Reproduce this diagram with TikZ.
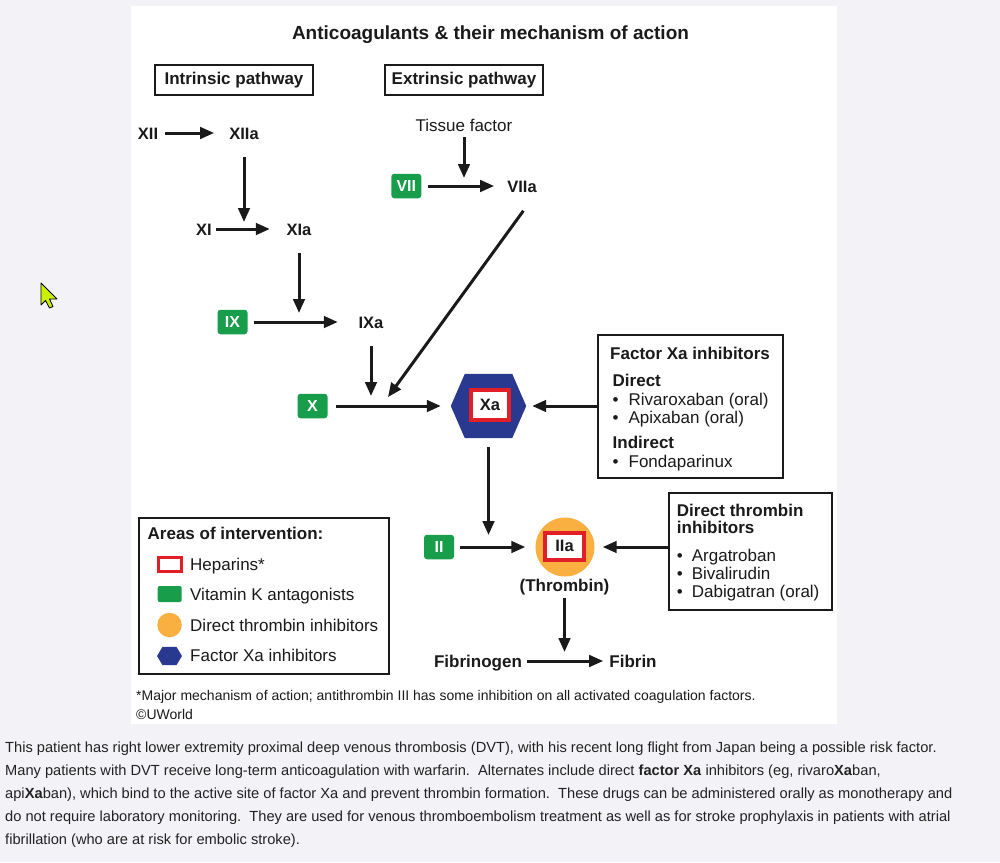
\documentclass[tikz,border=0pt]{standalone}
\usepackage{fontspec}
\setmainfont{Liberation Sans}
\usetikzlibrary{arrows.meta,calc}
\definecolor{bggray}{RGB}{243,243,247}
\definecolor{vkgreen}{RGB}{24,157,74}
\definecolor{xablue}{RGB}{42,57,144}
\definecolor{hepred}{RGB}{226,30,38}
\definecolor{dtiorange}{RGB}{250,176,64}
\definecolor{ink}{RGB}{26,26,26}
\definecolor{paraink}{RGB}{34,34,34}
\definecolor{cursorlime}{RGB}{200,240,0}
\begin{document}
\begin{tikzpicture}[x=1pt,y=-1pt,
  lab/.style={inner sep=0pt, text height=12pt, text depth=0pt, text=ink, font=\fontsize{16.5}{19}\selectfont\bfseries},
  txt/.style={inner sep=0pt, text height=12pt, text depth=0pt, text=ink, font=\fontsize{17}{20}\selectfont},
  btxt/.style={inner sep=0pt, text height=12pt, text depth=0pt, text=ink, font=\fontsize{17}{20}\selectfont\bfseries},
  small/.style={inner sep=0pt, text height=10pt, text depth=0pt, text=ink, anchor=west, font=\fontsize{14}{16}\selectfont},
  para/.style={inner sep=0pt, text height=10.5pt, text depth=0pt, text=paraink, anchor=west, font=\fontsize{14.65}{17}\selectfont},
  vk/.style={fill=vkgreen, rounded corners=3pt, minimum width=30pt, minimum height=24.5pt, inner sep=0pt, text=white, font=\fontsize{16}{19}\selectfont\bfseries},
  hep/.style={draw=hepred, line width=4pt, fill=white, inner sep=0pt, text=ink, font=\fontsize{16.5}{19}\selectfont\bfseries},
  arr/.style={draw=ink, line width=3pt, -{Triangle[length=14pt,width=11.5pt]}},
  frame/.style={draw=ink, line width=2pt, inner sep=0pt}]
\useasboundingbox (0,0) rectangle (1000,862);
\fill[bggray] (0,0) rectangle (1000,862);
\fill[white] (131,6) rectangle (837,724);

% title and pathway headers
\node[inner sep=0pt, text height=13.6pt, text depth=0pt, text=ink, font=\fontsize{19}{22}\selectfont\bfseries] (title) at (490.5,33) {Anticoagulants \& their mechanism of action};
\node[frame, minimum width=158pt, minimum height=30pt, text=ink, font=\fontsize{17}{20}\selectfont\bfseries] (intr) at (234,80) {Intrinsic pathway};
\node[frame, minimum width=158pt, minimum height=30pt, text=ink, font=\fontsize{17}{20}\selectfont\bfseries] (extr) at (464,80) {Extrinsic pathway};

% intrinsic cascade
\node[lab] (XII) at (148,133) {XII};
\node[lab] (XIIa) at (244,133) {XIIa};
\node[lab] (XI) at (204,229) {XI};
\node[lab] (XIa) at (299,229) {XIa};
\node[vk] (IX) at (232.5,322) {IX};
\node[lab] (IXa) at (371,322) {IXa};
\node[vk] (X) at (312.5,406) {X};
\coordinate (j1) at (244,229);
\coordinate (j2) at (299,322);
\coordinate (j3) at (371,406);
\draw[arr, shorten <=7pt, shorten >=15pt] (XII.east) -- (XIIa.west);
\draw[arr, shorten <=18pt, shorten >=7pt] (XIIa.south) -- (j1);
\draw[arr, shorten <=4pt, shorten >=16.6pt] (XI.east) -- (XIa.west);
\draw[arr, shorten <=18pt, shorten >=9pt] (XIa.south) -- (j2);
\draw[arr, shorten <=6pt, shorten >=20.6pt] (IX.east) -- (IXa.west);
\draw[arr, shorten <=18pt, shorten >=10pt] (IXa.south) -- (j3);

% extrinsic cascade
\node[txt] (TF) at (464,125) {Tissue factor};
\node[vk] (VII) at (406.3,186) {VII};
\node[lab] (VIIa) at (522,186) {VIIa};
\coordinate (j4) at (464,186);
\coordinate (j5) at (381.5,406);
\draw[arr, shorten <=6pt, shorten >=8pt] (TF.south) -- (j4);
\draw[arr, shorten <=6pt, shorten >=13pt] (VII.east) -- (VIIa.west);
\draw[arr, shorten <=23pt, shorten >=11pt] (VIIa.south east) -- (j5);

% factor Xa
\node[minimum width=75pt, minimum height=64pt, inner sep=0pt] (XaHex) at (488.5,406) {};
\fill[xablue] (XaHex.west) -- ([xshift=14pt]XaHex.north west) -- ([xshift=-14pt]XaHex.north east) -- (XaHex.east) -- ([xshift=-14pt]XaHex.south east) -- ([xshift=14pt]XaHex.south west) -- cycle;
\node[hep, minimum width=38pt, minimum height=30pt] (Xa) at (490,405) {Xa};
\draw[arr, shorten <=8pt, shorten >=10pt] (X.east) -- (XaHex.west);

% factor Xa inhibitors box
\node[frame, minimum width=185pt, minimum height=143pt] (fxa) at (690.2,406.3) {};
\node[btxt, anchor=west] (fxat) at (610,353) {Factor Xa inhibitors};
\node[btxt, anchor=west] (fxad) at (612.5,380.5) {Direct};
\node[txt, anchor=west] (fxa1) at (612.5,399) {\textbullet\hspace{10pt}Rivaroxaban (oral)};
\node[txt, anchor=west] (fxa2) at (612.5,417.3) {\textbullet\hspace{10pt}Apixaban (oral)};
\node[btxt, anchor=west] (fxai) at (612.5,442.7) {Indirect};
\node[txt, anchor=west] (fxa3) at (612.5,461) {\textbullet\hspace{10pt}Fondaparinux};
\draw[arr, shorten >=6pt] (fxa.west |- XaHex.east) -- (XaHex.east);

% thrombin
\node[circle, fill=dtiorange, minimum size=59pt, inner sep=0pt] (IIaC) at (565,547) {};
\node[hep, minimum width=39pt, minimum height=27pt] (IIa) at (564.5,546) {IIa};
\node[btxt] (thr) at (564.5,585) {(Thrombin)};
\node[vk] (II) at (439,547) {II};
\coordinate (j6) at (488.5,547);
\draw[arr, shorten <=9pt, shorten >=12pt] (XaHex.south) -- (j6);
\draw[arr, shorten <=6pt, shorten >=10pt] (II.east) -- (IIaC.west);

% direct thrombin inhibitors box
\node[frame, minimum width=163.6pt, minimum height=116.7pt] (dti) at (750.5,551.7) {};
\node[btxt, anchor=west] (dtit1) at (676.7,510) {Direct thrombin};
\node[btxt, anchor=west] (dtit2) at (676.7,527.5) {inhibitors};
\node[txt, anchor=west] (dti1) at (676.7,555) {\textbullet\hspace{9pt}Argatroban};
\node[txt, anchor=west] (dti2) at (676.7,573.3) {\textbullet\hspace{9pt}Bivalirudin};
\node[txt, anchor=west] (dti3) at (676.7,591) {\textbullet\hspace{9pt}Dabigatran (oral)};
\draw[arr, shorten >=8pt] (dti.west |- IIaC.east) -- (IIaC.east);

% fibrin
\node[btxt] (fibg) at (478,661) {Fibrinogen};
\node[btxt] (fib) at (633,661) {Fibrin};
\coordinate (j7) at (564.5,661);
\draw[arr, shorten <=7pt, shorten >=9pt] (thr.south) -- (j7);
\draw[arr, shorten <=5pt, shorten >=6pt] (fibg.east) -- (fib.west);

% legend
\node[frame, minimum width=250pt, minimum height=156pt] (legend) at (264.3,596.3) {};
\node[btxt, anchor=west] (legt) at (147.5,533.3) {Areas of intervention:};
\node[draw=hepred, line width=3pt, fill=white, minimum width=23pt, minimum height=14pt, inner sep=0pt] (lhep) at (169.5,564) {};
\node[fill=vkgreen, rounded corners=2pt, minimum width=24pt, minimum height=16pt, inner sep=0pt] (lvk) at (169.7,594) {};
\node[circle, fill=dtiorange, minimum size=24.5pt, inner sep=0pt] (ldti) at (169.5,625) {};
\node[minimum width=24.5pt, minimum height=18pt, inner sep=0pt] (lxa) at (169.5,656) {};
\fill[xablue] (lxa.west) -- ([xshift=5.5pt]lxa.north west) -- ([xshift=-5.5pt]lxa.north east) -- (lxa.east) -- ([xshift=-5.5pt]lxa.south east) -- ([xshift=5.5pt]lxa.south west) -- cycle;
\node[txt, anchor=west] (lhept) at (190,564) {Heparins*};
\node[txt, anchor=west] (lvkt) at (190,594) {Vitamin K antagonists};
\node[txt, anchor=west] (ldtit) at (190,625) {Direct thrombin inhibitors};
\node[txt, anchor=west] (lxat) at (190,655) {Factor Xa inhibitors};

% footnotes
\node[small] (foot) at (136,695) {*Major mechanism of action; antithrombin III has some inhibition on all activated coagulation factors.};
\node[small] (copy) at (136,714.5) {\textcopyright UWorld};

% explanation paragraph
\node[para] (p1) at (5,747) {This patient has right lower extremity proximal deep venous thrombosis (DVT), with his recent long flight from Japan being a possible risk factor.};
\node[para] (p2) at (5,770) {Many patients with DVT receive long-term anticoagulation with warfarin.\ \ Alternates include direct \textbf{factor Xa} inhibitors (eg, rivaro\textbf{Xa}ban,};
\node[para] (p3) at (5,793) {api\textbf{Xa}ban), which bind to the active site of factor Xa and prevent thrombin formation.\ \ These drugs can be administered orally as monotherapy and};
\node[para] (p4) at (5,816.5) {do not require laboratory monitoring.\ \ They are used for venous thromboembolism treatment as well as for stroke prophylaxis in patients with atrial};
\node[para] (p5) at (5,839.5) {fibrillation (who are at risk for embolic stroke).};

% mouse cursor
\filldraw[fill=cursorlime, draw=black, line width=0.8pt, line join=round] (41,283) -- (41,305) -- (45.5,300.5) -- (49.5,308) -- (53,306.5) -- (49.5,299) -- (57,299) -- cycle;
\end{tikzpicture}
\end{document}
